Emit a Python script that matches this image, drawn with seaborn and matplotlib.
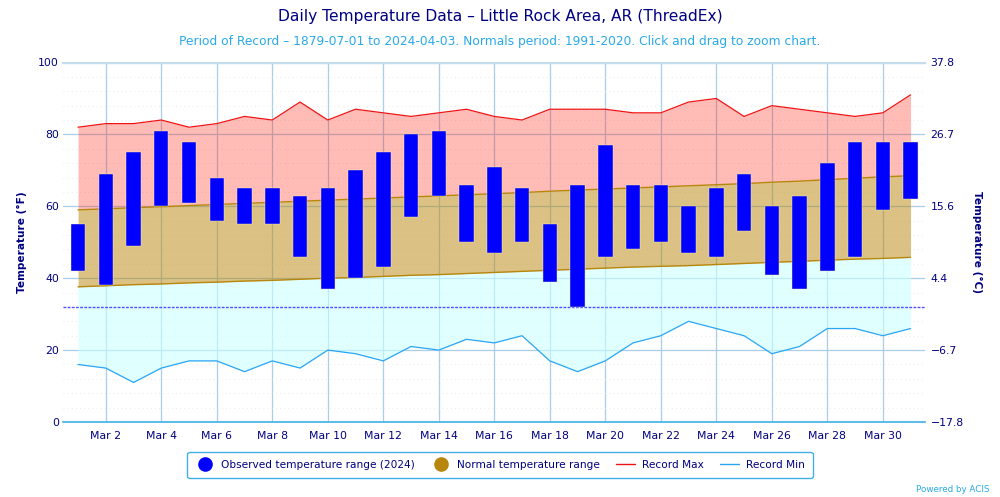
# Daily temperature chart - Little Rock Area, March 2024

import pandas as pd
import matplotlib
matplotlib.use("Agg")
import matplotlib.pyplot as plt
import matplotlib.dates as mdates
from matplotlib.lines import Line2D
import seaborn as sns

# ============================================================
# DATA
# ============================================================
df = pd.DataFrame({
    "date": pd.date_range("2024-03-01", "2024-03-31"),
    "obs_high": [55, 69, 75, 81, 78, 68, 65, 65, 63, 65, 70, 75, 80, 81, 66, 71,
                 65, 55, 66, 77, 66, 66, 60, 65, 69, 60, 63, 72, 78, 78, 78],
    "obs_low": [42, 38, 49, 60, 61, 56, 55, 55, 46, 37, 40, 43, 57, 63, 50, 47,
                50, 39, 32, 46, 48, 50, 47, 46, 53, 41, 37, 42, 46, 59, 62],
    "rec_max": [82, 83, 83, 84, 82, 83, 85, 84, 89, 84, 87, 86, 85, 86, 87, 85,
                84, 87, 87, 87, 86, 86, 89, 90, 85, 88, 87, 86, 85, 86, 91],
    "rec_min": [16, 15, 11, 15, 17, 17, 14, 17, 15, 20, 19, 17, 21, 20, 23, 22,
                24, 17, 14, 17, 22, 24, 28, 26, 24, 19, 21, 26, 26, 24, 26],
    "norm_high": [59.0, 59.3, 59.6, 59.9, 60.2, 60.5, 60.8, 61.1, 61.4, 61.7, 62.0,
                  62.3, 62.6, 62.9, 63.2, 63.5, 63.8, 64.2, 64.5, 64.8, 65.1, 65.4,
                  65.7, 66.0, 66.3, 66.7, 67.0, 67.4, 67.8, 68.2, 68.5],
    "norm_low": [37.6, 37.9, 38.2, 38.4, 38.7, 38.9, 39.2, 39.4, 39.7, 40.0, 40.2,
                 40.5, 40.8, 41.0, 41.3, 41.6, 41.9, 42.2, 42.5, 42.8, 43.1, 43.3,
                 43.5, 43.8, 44.1, 44.4, 44.7, 45.0, 45.3, 45.5, 45.8],
})

NAVY = "#000080"
SKY = "#29a9e8"
GRID = "#a9cfe8"

# ============================================================
# PLOT
# ============================================================
sns.set_theme(style="white", rc={"font.family": "DejaVu Sans"})

fig = plt.figure(figsize=(10, 4.97), dpi=100)
ax = fig.add_axes([0.063, 1 - 422 / 497, 0.862, (422 - 62.5) / 497])

ax.fill_between(df["date"], df["norm_high"], df["rec_max"], color="#ff2010", alpha=0.3, lw=0, zorder=2)
ax.fill_between(df["date"], df["norm_low"], df["norm_high"], color="#b8860b", alpha=0.5, lw=0, zorder=2)
ax.fill_between(df["date"], df["rec_min"], df["norm_low"], color="#ccffff", alpha=0.6, lw=0, zorder=2)

sns.lineplot(data=df, x="date", y="norm_high", color="#b8860b", lw=1, ax=ax, zorder=3)
sns.lineplot(data=df, x="date", y="norm_low", color="#b8860b", lw=1, ax=ax, zorder=3)
sns.lineplot(data=df, x="date", y="rec_max", color="#f01414", lw=0.9, ax=ax, zorder=3)
sns.lineplot(data=df, x="date", y="rec_min", color="#2aa5f5", lw=0.9, ax=ax, zorder=3)

ax.bar(df["date"], df["obs_high"] - df["obs_low"], bottom=df["obs_low"], width=0.52,
       color="#0000ff", edgecolor="#fff0a0", linewidth=0.3, zorder=4)

ax.axhline(32, color="#4f4fff", lw=1, ls=(0, (2, 1)), zorder=3)

# axes and grid
ax.set_xlim(pd.Timestamp("2024-02-29 11:00"), pd.Timestamp("2024-03-31 12:30"))
ax.set_ylim(0, 100)
ax.set_yticks(range(0, 101, 20))
ax.set_yticks([v for v in range(4, 100, 4) if v % 20 != 0], minor=True)
ax.set_xticks(df["date"][1::2])
ax.xaxis.set_major_formatter(mdates.DateFormatter("Mar %-d"))

ax.grid(True, which="major", axis="both", color=GRID, lw=0.9, zorder=1)
ax.grid(True, which="minor", axis="y", color="#e2e2e2", lw=0.6, ls=(0, (1, 4)), zorder=1)
ax.set_axisbelow(True)

ax.tick_params(axis="x", which="major", length=6, width=0.9, color=GRID, labelsize=7.8,
               labelcolor=NAVY, pad=0.5)
ax.tick_params(axis="y", which="major", length=0, labelsize=7.8, labelcolor=NAVY, pad=3)
ax.tick_params(axis="y", which="minor", length=0)

for side in ["left", "right"]:
    ax.spines[side].set_visible(False)
ax.spines["top"].set_color("#c4dcec")
ax.spines["top"].set_linewidth(1.5)
ax.spines["bottom"].set_color("#3fb0ea")
ax.spines["bottom"].set_linewidth(1.2)

ax.set_xlabel("")
ax.set_ylabel("Temperature (°F)", color=NAVY, fontsize=7.6, fontweight="bold", va="center")
ax.yaxis.set_label_coords(-0.0476, 0.5)

# right axis in Celsius
ax2 = ax.twinx()
ax2.set_ylim(0, 100)
ax2.set_yticks(range(0, 101, 20))
ax2.set_yticklabels(["\u221217.8", "\u22126.7", "4.4", "15.6", "26.7", "37.8"])
ax2.tick_params(axis="y", length=0, labelsize=7.8, labelcolor=NAVY, pad=4)
ax2.grid(False)
for spine in ax2.spines.values():
    spine.set_visible(False)
ax2.set_ylabel("Temperature (°C)", color=NAVY, fontsize=7.6, fontweight="bold", rotation=270, va="center")
ax2.yaxis.set_label_coords(1.0603, 0.5)

# titles
fig.text(0.5, 1 - 16 / 497, "Daily Temperature Data \u2013 Little Rock Area, AR (ThreadEx)",
         color=NAVY, fontsize=11.15, ha="center", va="center")
fig.text(0.5, 1 - 42 / 497,
         "Period of Record \u2013 1879-07-01 to 2024-04-03. Normals period: 1991-2020. Click and drag to zoom chart.",
         color=SKY, fontsize=8.8, ha="center", va="center")
fig.text(0.99, 1 - 489 / 497, "Powered by ACIS", color=SKY, fontsize=6.3, ha="right", va="center")

# legend
handles = [
    Line2D([], [], marker="o", ls="", color="#0000ff", markersize=9.5),
    Line2D([], [], marker="o", ls="", color="#b8860b", markersize=9.5),
    Line2D([], [], color="#f01414", lw=1),
    Line2D([], [], color="#2aa5f5", lw=1),
]
labels = ["Observed temperature range (2024)", "Normal temperature range", "Record Max", "Record Min"]
leg = fig.legend(handles, labels, ncol=4, loc="center", bbox_to_anchor=(0.5, 1 - 465 / 497),
                 fontsize=7.6, labelcolor=NAVY, frameon=True, fancybox=True, edgecolor="#3fb0ea",
                 facecolor="white", framealpha=1, handlelength=1.8, columnspacing=1.6,
                 handletextpad=0.6, borderpad=0.75)
leg.get_frame().set_linewidth(1)

fig.savefig("out.png", dpi=100)
plt.close(fig)
